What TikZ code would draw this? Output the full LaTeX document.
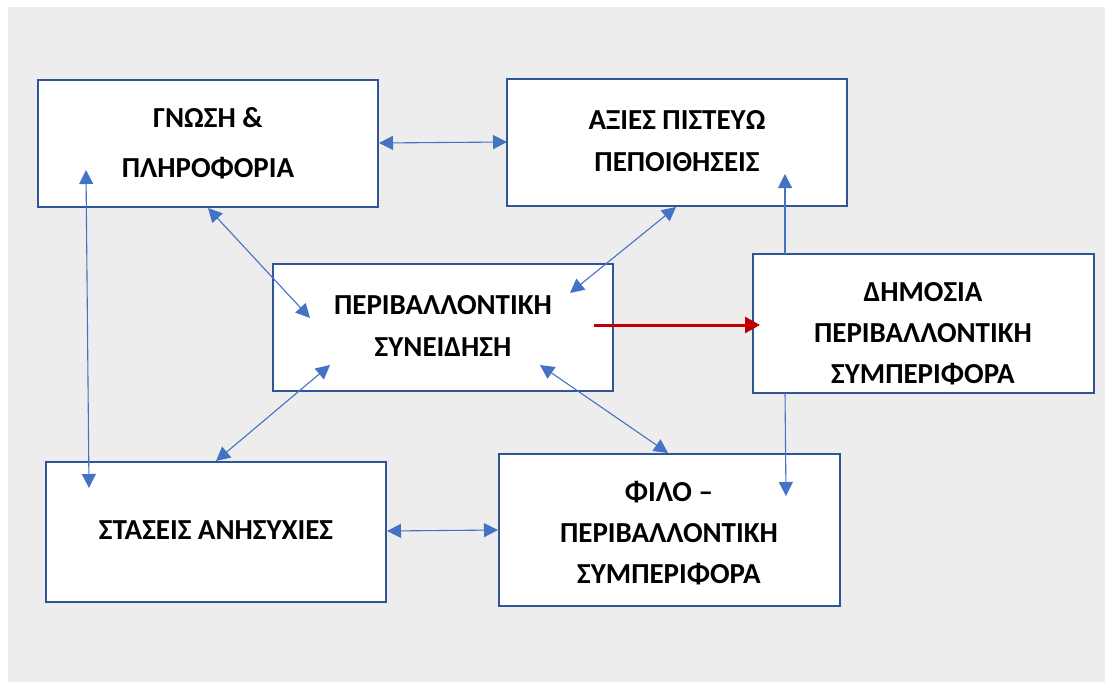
\documentclass[tikz,border=0pt]{standalone}
\usepackage{fontspec}
\setmainfont{Carlito}
\usetikzlibrary{arrows.meta}
\definecolor{bggray}{HTML}{EDEDED}
\definecolor{boxblue}{HTML}{2F5597}
\definecolor{arrblue}{HTML}{4472C4}
\definecolor{darkred}{HTML}{C00000}
\tikzset{
  box/.style={draw=boxblue, line width=2.5pt, fill=white, inner sep=0pt},
  txt/.style={font=\fontsize{29}{42}\selectfont\bfseries, align=center, inner sep=0pt},
  link/.style={draw=arrblue, line width=1.1pt},
  both/.style={link, {Triangle[length=14pt,width=14pt]}-{Triangle[length=14pt,width=14pt]}},
  one/.style={link, -{Triangle[length=14pt,width=14pt]}},
  main/.style={draw=darkred, line width=3pt, -{Triangle[length=15pt,width=16pt]}}
}
\begin{document}
\begin{tikzpicture}[x=1pt,y=-1pt]
\useasboundingbox (0,0) rectangle (1105,682);
\fill[bggray] (8,7) rectangle (1105,682);
% boxes
\node[box, minimum width=340pt, minimum height=127pt] (A) at (208,143.5) {};
\node[box, minimum width=340pt, minimum height=127pt] (B) at (677,142.5) {};
\node[box, minimum width=340pt, minimum height=127pt] (C) at (443,327.5) {};
\node[box, minimum width=341pt, minimum height=139pt] (D) at (923.5,323.5) {};
\node[box, minimum width=340pt, minimum height=140pt] (E) at (216,532) {};
\node[box, minimum width=341pt, minimum height=152pt] (F) at (669.5,530) {};
% texts
\node[txt, font=\fontsize{29}{50}\selectfont\bfseries] (tA) at (208,143) {ΓΝΩΣΗ \&\\ΠΛΗΡΟΦΟΡΙΑ};
\node[txt] (tB) at (677,141) {ΑΞΙΕΣ ΠΙΣΤΕΥΩ\\ΠΕΠΟΙΘΗΣΕΙΣ};
\node[txt] (tC) at (443,326) {ΠΕΡΙΒΑΛΛΟΝΤΙΚΗ\\ΣΥΝΕΙΔΗΣΗ};
\node[txt, font=\fontsize{29}{41}\selectfont\bfseries] (tD) at (923,333.5) {ΔΗΜΟΣΙΑ\\ΠΕΡΙΒΑΛΛΟΝΤΙΚΗ\\ΣΥΜΠΕΡΙΦΟΡΑ};
\node[txt] (tE) at (216,530) {ΣΤΑΣΕΙΣ ΑΝΗΣΥΧΙΕΣ};
\node[txt, font=\fontsize{29}{41}\selectfont\bfseries] (tF) at (669,533) {ΦΙΛΟ –\\ΠΕΡΙΒΑΛΛΟΝΤΙΚΗ\\ΣΥΜΠΕΡΙΦΟΡΑ};
% connector end points
\coordinate (ab1) at (379,143);
\coordinate (ab2) at (507,142);
\coordinate (ac1) at (208,208);
\coordinate (ac2) at (310,318);
\coordinate (bc1) at (676,207);
\coordinate (bc2) at (570,293);
\coordinate (ec1) at (216,461);
\coordinate (ec2) at (330,365);
\coordinate (cf1) at (540,365);
\coordinate (cf2) at (668,453);
\coordinate (ae1) at (86,170);
\coordinate (ae2) at (89,488);
\coordinate (ef1) at (387,531);
\coordinate (ef2) at (498,530);
\coordinate (db1) at (785,254);
\coordinate (db2) at (785,174);
\coordinate (df1) at (785,393);
\coordinate (df2) at (786,496);
\coordinate (cd1) at (594,325);
\coordinate (cd2) at (760,325);
% connectors
\draw[both] (ab1) -- (ab2);
\draw[both] (ac1) -- (ac2);
\draw[both] (bc1) -- (bc2);
\draw[both] (ec1) -- (ec2);
\draw[both] (cf1) -- (cf2);
\draw[both] (ae1) -- (ae2);
\draw[both] (ef1) -- (ef2);
\draw[one] (db1) -- (db2);
\draw[one] (df1) -- (df2);
\draw[main] (cd1) -- (cd2);
\end{tikzpicture}
\end{document}
